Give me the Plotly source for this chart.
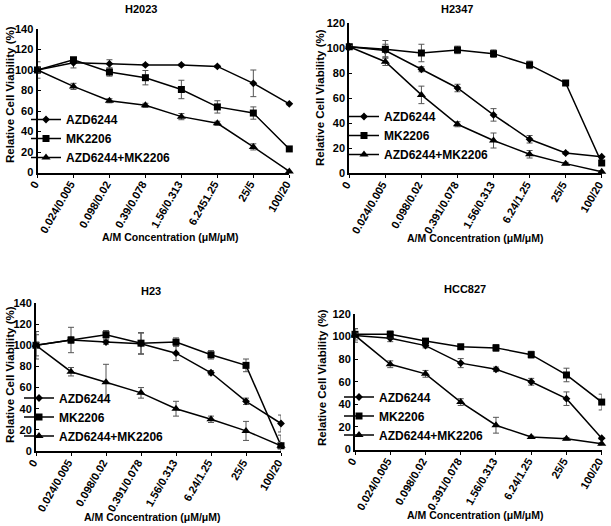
import plotly.graph_objects as go

# ---------------- data ----------------
positions = [0, 1, 2, 3, 4, 5, 6, 7]

ticks_h2023 = ["0", "0.024/0.005", "0.098/0.02", "0.39/0.078", "1.56/0.313",
               "6.2451.25", "25/5", "100/20"]
ticks_std = ["0", "0.024/0.005", "0.098/0.02", "0.391/0.078", "1.56/0.313",
             "6.24/1.25", "25/5", "100/20"]

series_names = ["AZD6244", "MK2206", "AZD6244+MK2206"]

# H2023
h2023_azd = [100, 107, 106, 105, 105, 103.5, 87, 67]
h2023_azd_err = [8, 5, 4, 1, 1, 1, 13, 1]
h2023_mk = [100, 110, 98, 92.5, 81, 64, 58, 23]
h2023_mk_err = [3, 2, 4, 7, 9, 6, 6, 1]
h2023_combo = [100, 84, 70, 65.5, 54.5, 48, 25, 1]
h2023_combo_err = [2, 3, 2, 2, 3, 2, 3, 1]

# H2347
h2347_azd = [101, 98, 83, 68, 46.5, 27, 16, 13]
h2347_azd_err = [2, 5, 2, 3, 5, 3, 1, 1]
h2347_mk = [101, 99, 96, 98.5, 95.5, 86.5, 72, 8]
h2347_mk_err = [1, 7, 7, 3, 3, 3, 2, 2]
h2347_combo = [101, 89, 62.5, 39, 26, 15, 7.5, 1]
h2347_combo_err = [1, 3, 7, 2, 6, 3, 1, 1]

# H23
h23_azd = [100, 105, 103, 101.5, 92.5, 74, 47, 26]
h23_azd_err = [13, 3, 2, 10, 7, 2, 3, 8]
h23_mk = [100, 105, 110, 102, 103, 91, 81, 5]
h23_mk_err = [10, 12, 4, 10, 4, 4, 6, 10]
h23_combo = [100, 75, 65, 55, 40, 30, 19, 5]
h23_combo_err = [3, 4, 17, 5, 7, 3, 9, 3]

# HCC827
hcc827_azd = [101, 98.5, 92, 76.5, 71, 60, 45, 10]
hcc827_azd_err = [6, 3, 2, 4, 2, 3, 6, 1]
hcc827_mk = [102, 102, 96, 91, 90, 84, 66, 42]
hcc827_mk_err = [5, 3, 2, 2, 3, 3, 6, 7]
hcc827_combo = [101, 75.5, 67, 42, 21.5, 11, 9.5, 5]
hcc827_combo_err = [2, 3, 3, 3, 7, 1, 1, 1]

panel_titles = ["H2023", "H2347", "H23", "HCC827"]
y_max = [140, 120, 140, 120]
y_dtick = 20
x_title = "A/M Concentration (\u03bcM/\u03bcM)"
y_title = "Relative Cell Viability (%)"

panels = [
    (h2023_azd, h2023_azd_err, h2023_mk, h2023_mk_err, h2023_combo, h2023_combo_err, ticks_h2023),
    (h2347_azd, h2347_azd_err, h2347_mk, h2347_mk_err, h2347_combo, h2347_combo_err, ticks_std),
    (h23_azd, h23_azd_err, h23_mk, h23_mk_err, h23_combo, h23_combo_err, ticks_std),
    (hcc827_azd, hcc827_azd_err, hcc827_mk, hcc827_mk_err, hcc827_combo, hcc827_combo_err, ticks_std),
]

# ---------------- layout geometry (pixels in a 611x526 canvas) ----------------
W, H = 611, 526
# (left, right, top, bottom) of each plotting area
boxes = [
    (37.5, 289.3, 29.0, 172.5),
    (349.3, 601.7, 23.0, 173.0),
    (36.0, 281.0, 303.0, 451.0),
    (355.0, 601.7, 314.0, 449.5),
]
title_pos = [(141, 9), (457, 9), (151, 291), (465, 289)]
xtitle_pos = [(170, 237), (475, 238), (152, 517), (475, 515)]
ytitle_pos = [(10, 95), (320, 98), (10, 375), (322, 378)]
legend_pos = [(26, 138.5), (344, 135.5), (19, 417), (339, 416)]

FONT = "Liberation Sans, Arial, Helvetica, sans-serif"
symbols = ["diamond", "square", "triangle-up"]
msizes = [6, 7, 8]

fig = go.Figure()
layout_axes = {}
annotations = []

for i, (azd, azd_e, mk, mk_e, combo, combo_e, tick_text) in enumerate(panels):
    n = "" if i == 0 else str(i + 1)
    xa, ya = "x" + n, "y" + n
    leg = "legend" + n
    series = [(azd, azd_e), (mk, mk_e), (combo, combo_e)]
    for s, (vals, errs) in enumerate(series):
        fig.add_trace(go.Scatter(
            x=positions, y=vals, xaxis=xa, yaxis=ya, legend=leg,
            name=series_names[s], mode="lines+markers",
            line=dict(color="black", width=1.5),
            marker=dict(symbol=symbols[s], size=msizes[s], color="black"),
            error_y=dict(type="data", array=errs, visible=True,
                         color="#555555", thickness=1, width=3),
            cliponaxis=False,
        ))
    l, r, t, b = boxes[i]
    layout_axes["xaxis" + n] = dict(
        domain=[l / W, r / W], anchor=ya, range=[0, 7], automargin=False,
        tickmode="array", tickvals=positions, ticktext=tick_text,
        tickangle=-60, showline=True, linecolor="black", linewidth=2,
        ticks="outside", ticklen=3, tickcolor="black", showgrid=False,
        zeroline=False, ticklabelstandoff=-4, ticklabelshift=-3,
        tickfont=dict(family=FONT, size=11, color="black", weight="bold"),
    )
    layout_axes["yaxis" + n] = dict(
        domain=[1 - b / H, 1 - t / H], anchor=xa, range=[0, y_max[i]],
        automargin=False,
        dtick=y_dtick, tick0=0, showline=True, linecolor="black", linewidth=2,
        ticks="inside", ticklen=3, tickcolor="black", showgrid=False,
        zeroline=False,
        tickfont=dict(family=FONT, size=11, color="black", weight="bold"),
    )
    lx, ly = legend_pos[i]
    layout_axes[leg] = dict(
        x=lx / W, y=1 - ly / H, xanchor="left", yanchor="middle",
        bgcolor="rgba(0,0,0,0)", itemwidth=30, tracegroupgap=0,
        font=dict(family=FONT, size=12, color="black", weight="bold"),
    )
    tx, ty = title_pos[i]
    annotations.append(dict(text=panel_titles[i], x=tx / W, y=1 - ty / H,
                            xref="paper", yref="paper", showarrow=False,
                            xanchor="center", yanchor="middle",
                            font=dict(family=FONT, size=11, color="black", weight="bold")))
    tx, ty = xtitle_pos[i]
    annotations.append(dict(text=x_title, x=tx / W, y=1 - ty / H,
                            xref="paper", yref="paper", showarrow=False,
                            xanchor="center", yanchor="middle",
                            font=dict(family=FONT, size=10.5, color="black", weight="bold")))
    tx, ty = ytitle_pos[i]
    annotations.append(dict(text=y_title, x=tx / W, y=1 - ty / H,
                            xref="paper", yref="paper", showarrow=False,
                            xanchor="center", yanchor="middle", textangle=-90,
                            font=dict(family=FONT, size=11.5, color="black", weight="bold")))

fig.update_layout(
    width=W, height=H,
    margin=dict(l=0, r=0, t=0, b=0, autoexpand=False),
    paper_bgcolor="white", plot_bgcolor="white",
    showlegend=True,
    annotations=annotations,
    **layout_axes,
)

fig.write_html(
    "out.html",
    config={"displayModeBar": False},
    post_script="document.body.style.margin='0';document.body.style.padding='0';",
)
